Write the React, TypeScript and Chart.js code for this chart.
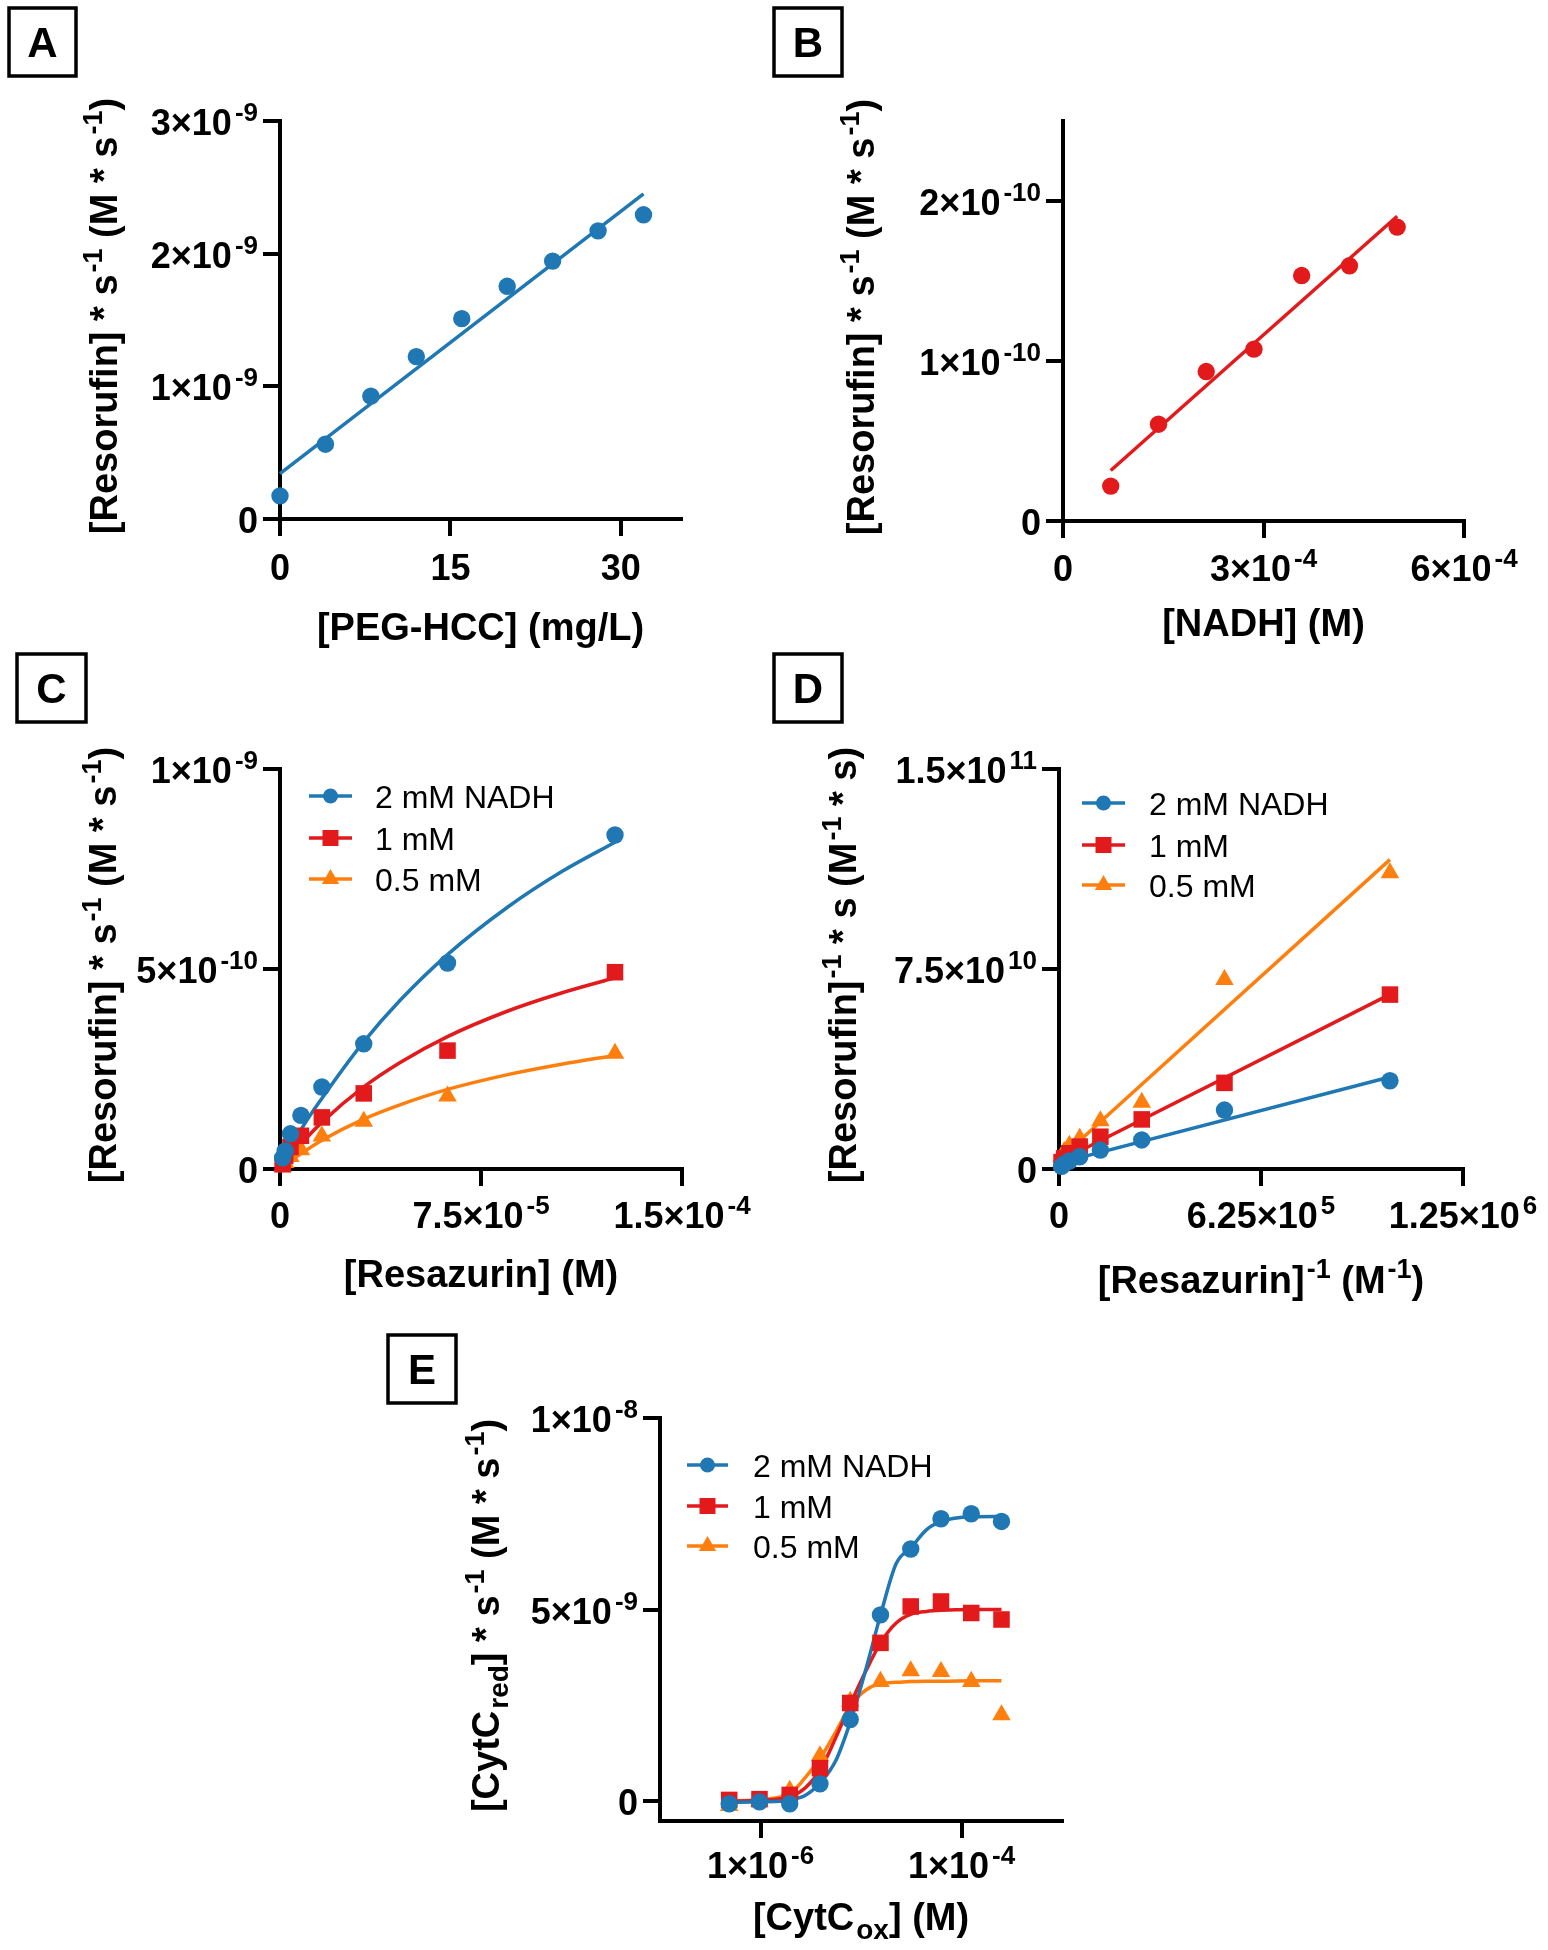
import React, { useEffect, useRef } from 'react';
import { Chart, registerables } from 'chart.js';

Chart.register(...registerables);

const W = 1548;
const H = 1950;
const BLUE = '#1f77b4';
const RED = '#e31a1c';
const ORANGE = '#ff7f0e';
const FONT = '"Liberation Sans", Arial, Helvetica, sans-serif';

// ---------- Panel A: rate vs PEG-HCC ----------
const peghccConc = [0, 4, 8, 12, 16, 20, 24, 28, 32];
const peghccRate = [0.174e-9, 0.564e-9, 0.926e-9, 1.224e-9, 1.51e-9, 1.754e-9, 1.944e-9, 2.172e-9, 2.293e-9];
const peghccFitX = [0, 32];
const peghccFitY = [0.342e-9, 2.451e-9];
const aXTicks = [0, 15, 30];
const aXTickLabels = ['0', '15', '30'];
const aYTicks = [0, 1e-9, 2e-9, 3e-9];
const aYTickLabels = ['0', '1×10^{-9}', '2×10^{-9}', '3×10^{-9}'];

// ---------- Panel B: rate vs NADH ----------
const nadhConc = [0.714e-4, 1.429e-4, 2.143e-4, 2.857e-4, 3.571e-4, 4.286e-4, 5.0e-4];
const nadhRate = [0.218e-10, 0.605e-10, 0.934e-10, 1.074e-10, 1.534e-10, 1.595e-10, 1.837e-10];
const nadhFitX = [0.714e-4, 5.0e-4];
const nadhFitY = [0.316e-10, 1.905e-10];
const bXTicks = [0, 3e-4, 6e-4];
const bXTickLabels = ['0', '3×10^{-4}', '6×10^{-4}'];
const bYTicks = [0, 1e-10, 2e-10];
const bYTickLabels = ['0', '1×10^{-10}', '2×10^{-10}'];

// ---------- Panel C: Michaelis-Menten ----------
const resazurinConc = [1.25e-4, 6.25e-5, 3.125e-5, 1.5625e-5, 7.8125e-6, 3.906e-6, 1.953e-6, 9.77e-7];
const rate2mM = [0.835e-9, 0.515e-9, 0.313e-9, 0.205e-9, 0.134e-9, 0.088e-9, 0.045e-9, 0.028e-9];
const rate1mM = [0.492e-9, 0.296e-9, 0.189e-9, 0.129e-9, 0.083e-9, 0.055e-9, 0.033e-9, 0.012e-9];
const rate05mM = [0.289e-9, 0.182e-9, 0.119e-9, 0.082e-9, 0.048e-9, 0.031e-9, 0.016e-9, 0.005e-9];
const mmCurveX = [9.77e-7, 4e-6, 8e-6, 1.6e-5, 3.1e-5, 4.5e-5, 6.25e-5, 8.5e-5, 1.05e-4, 1.25e-4];
const mmCurve2mM = [0.012e-9, 0.05e-9, 0.1e-9, 0.18e-9, 0.316e-9, 0.423e-9, 0.536e-9, 0.655e-9, 0.743e-9, 0.817e-9];
const mmCurve1mM = [0.008e-9, 0.033e-9, 0.064e-9, 0.119e-9, 0.204e-9, 0.267e-9, 0.331e-9, 0.395e-9, 0.44e-9, 0.478e-9];
const mmCurve05mM = [0.005e-9, 0.02e-9, 0.039e-9, 0.073e-9, 0.124e-9, 0.161e-9, 0.199e-9, 0.236e-9, 0.262e-9, 0.284e-9];
const cXTicks = [0, 7.5e-5, 1.5e-4];
const cXTickLabels = ['0', '7.5×10^{-5}', '1.5×10^{-4}'];
const cYTicks = [0, 5e-10, 1e-9];
const cYTickLabels = ['0', '5×10^{-10}', '1×10^{-9}'];

// ---------- Panel D: Lineweaver-Burk ----------
const invResazurin = [1.024e6, 5.12e5, 2.56e5, 1.28e5, 6.4e4, 3.2e4, 1.6e4, 8e3];
const invRate2mM = [3.31e10, 2.21e10, 1.09e10, 0.71e10, 0.46e10, 0.3e10, 0.19e10, 0.1e10];
const invRate1mM = [6.54e10, 3.23e10, 1.86e10, 1.21e10, 0.84e10, 0.59e10, 0.4e10, 0.26e10];
const invRate05mM = [11.1e10, 7.1e10, 2.5e10, 1.8e10, 1.15e10, 0.88e10, 0.65e10, 0.45e10];
const lbFitX = [8e3, 1.024e6];
const lbFit2mM = [0.25e10, 3.45e10];
const lbFit1mM = [0.33e10, 6.55e10];
const lbFit05mM = [0.45e10, 11.6e10];
const dXTicks = [0, 6.25e5, 1.25e6];
const dXTickLabels = ['0', '6.25×10^{5}', '1.25×10^{6}'];
const dYTicks = [0, 7.5e10, 1.5e11];
const dYTickLabels = ['0', '7.5×10^{10}', '1.5×10^{11}'];

// ---------- Panel E: CytC reduction ----------
const cytcConc = [4.88e-7, 9.77e-7, 1.953e-6, 3.906e-6, 7.8125e-6, 1.5625e-5, 3.125e-5, 6.25e-5, 1.25e-4, 2.5e-4];
const cytcRate2mM = [-0.07e-9, -0.02e-9, -0.07e-9, 0.45e-9, 2.13e-9, 4.86e-9, 6.58e-9, 7.37e-9, 7.5e-9, 7.3e-9];
const cytcRate1mM = [0.03e-9, 0.05e-9, 0.16e-9, 0.86e-9, 2.56e-9, 4.13e-9, 5.08e-9, 5.21e-9, 4.91e-9, 4.74e-9];
const cytcRate05mM = [-0.12e-9, 0.0, 0.28e-9, 1.18e-9, 2.6e-9, 3.12e-9, 3.4e-9, 3.38e-9, 3.12e-9, 2.25e-9];
const cytcCurveX = [4.88e-7, 1.0e-6, 2.0e-6, 2.8e-6, 4.0e-6, 5.6e-6, 7.9e-6, 1.12e-5, 1.58e-5, 2.24e-5, 3.16e-5, 4.47e-5, 6.3e-5, 1.26e-4, 2.5e-4];
const cytcCurve2mM = [-0.03e-9, -0.02e-9, 0.03e-9, 0.15e-9, 0.5e-9, 1.05e-9, 2.1e-9, 3.45e-9, 4.9e-9, 6.2e-9, 6.62e-9, 7.08e-9, 7.3e-9, 7.42e-9, 7.43e-9];
const cytcCurve1mM = [0.0, 0.02e-9, 0.12e-9, 0.35e-9, 0.85e-9, 1.65e-9, 2.55e-9, 3.4e-9, 4.15e-9, 4.65e-9, 4.88e-9, 4.95e-9, 4.98e-9, 5.0e-9, 5.0e-9];
const cytcCurve05mM = [0.0, 0.04e-9, 0.21e-9, 0.62e-9, 1.15e-9, 1.8e-9, 2.5e-9, 2.9e-9, 3.07e-9, 3.1e-9, 3.12e-9, 3.13e-9, 3.13e-9, 3.14e-9, 3.14e-9];
const eXTicks = [1e-6, 1e-4];
const eXTickLabels = ['1×10^{-6}', '1×10^{-4}'];
const eYTicks = [0, 5e-9, 1e-8];
const eYTickLabels = ['0', '5×10^{-9}', '1×10^{-8}'];

const seriesLabels = ['2 mM NADH', '1 mM', '0.5 mM'];
const seriesColors = [BLUE, RED, ORANGE];
const seriesStyles = ['circle', 'rect', 'triangle'];

// ---------- rich text ----------
type Seg = { t: string; k: 'n' | 'sup' | 'sub' };
function parseRich(s: string): Seg[] {
  const out: Seg[] = [];
  let buf = '';
  let i = 0;
  while (i < s.length) {
    const c = s[i];
    if ((c === '^' || c === '_') && s[i + 1] === '{') {
      if (buf) { out.push({ t: buf, k: 'n' }); buf = ''; }
      const end = s.indexOf('}', i + 2);
      out.push({ t: s.slice(i + 2, end), k: c === '^' ? 'sup' : 'sub' });
      i = end + 1;
    } else {
      buf += c;
      i++;
    }
  }
  if (buf) out.push({ t: buf, k: 'n' });
  return out;
}

type RichStyle = { size: number; bold: boolean; supSize: number; supRise: number; subSize: number; subDrop: number; gap: number };
const TICK_STYLE: RichStyle = { size: 36, bold: true, supSize: 26, supRise: 14, subSize: 26, subDrop: 8, gap: 3 };
const TITLE_STYLE: RichStyle = { size: 38, bold: true, supSize: 27, supRise: 15, subSize: 28, subDrop: 9, gap: 2 };

function drawRich(ctx: CanvasRenderingContext2D, s: string, x: number, y: number, st: RichStyle, align: 'left' | 'center' | 'right') {
  const segs = parseRich(s);
  const fontFor = (k: Seg['k']) => `${st.bold ? 'bold ' : ''}${k === 'n' ? st.size : k === 'sup' ? st.supSize : st.subSize}px ${FONT}`;
  const widths = segs.map((sg) => {
    ctx.font = fontFor(sg.k);
    return ctx.measureText(sg.t).width + (sg.k !== 'n' ? st.gap : 0);
  });
  const total = widths.reduce((a, b) => a + b, 0);
  let cx = align === 'center' ? x - total / 2 : align === 'right' ? x - total : x;
  ctx.textAlign = 'left';
  ctx.textBaseline = 'alphabetic';
  segs.forEach((sg, i) => {
    ctx.font = fontFor(sg.k);
    const dy = sg.k === 'sup' ? -st.supRise : sg.k === 'sub' ? st.subDrop : 0;
    ctx.fillText(sg.t, cx + (sg.k !== 'n' ? st.gap : 0), y + dy);
    cx += widths[i];
  });
}

function drawMarker(ctx: CanvasRenderingContext2D, style: string, x: number, y: number, color: string) {
  ctx.fillStyle = color;
  ctx.beginPath();
  if (style === 'circle') {
    ctx.arc(x, y, 7.5, 0, Math.PI * 2);
  } else if (style === 'rect') {
    ctx.rect(x - 8, y - 8, 16, 16);
  } else {
    const r = 10;
    ctx.moveTo(x, y - r);
    ctx.lineTo(x + r * Math.sin((2 * Math.PI) / 3), y + r / 2);
    ctx.lineTo(x - r * Math.sin((2 * Math.PI) / 3), y + r / 2);
    ctx.closePath();
  }
  ctx.fill();
}

type Area = { left: number; top: number; right: number; bottom: number };
type PanelSpec = {
  letter: string;
  box: [number, number, number, number];
  area: Area;
  xType: 'linear' | 'logarithmic';
  xMin: number; xMax: number; yMin: number; yMax: number;
  xTicks: number[]; xTickLabels: string[];
  yTicks: number[]; yTickLabels: string[];
  xTitle: string; yTitle: string;
  xLabelDy: number; xTitleDy: number; yTitleDx: number;
  legend?: { x0: number; x1: number; tx: number; rows: number[] };
  datasets: any[];
};

const pts = (xs: number[], ys: number[]) => xs.map((x, i) => ({ x, y: ys[i] }));

function pointSet(label: string, xs: number[], ys: number[], color: string, style: string) {
  const radius = style === 'circle' ? 8.7 : style === 'rect' ? 11.7 : 10.7;
  return {
    label,
    data: pts(xs, ys),
    showLine: false,
    pointStyle: style,
    pointRadius: radius,
    pointBackgroundColor: color,
    pointBorderColor: color,
    pointBorderWidth: 0,
    backgroundColor: color,
    borderColor: color,
    clip: false,
  };
}

function curveSet(xs: number[], ys: number[], color: string, smooth: boolean) {
  return {
    data: pts(xs, ys),
    showLine: true,
    pointRadius: 0,
    borderColor: color,
    backgroundColor: color,
    borderWidth: 3.5,
    fill: false,
    cubicInterpolationMode: smooth ? 'monotone' : 'default',
    tension: 0,
    clip: false,
  };
}

const panels: PanelSpec[] = [
  {
    letter: 'A',
    box: [9, 8, 67, 68],
    area: { left: 280, top: 121, right: 681, bottom: 519 },
    xType: 'linear', xMin: 0, xMax: 35.3, yMin: 0, yMax: 3e-9,
    xTicks: aXTicks, xTickLabels: aXTickLabels, yTicks: aYTicks, yTickLabels: aYTickLabels,
    xTitle: '[PEG-HCC] (mg/L)', yTitle: '[Resorufin] * s^{-1} (M * s^{-1})',
    xLabelDy: 61, xTitleDy: 121, yTitleDx: 163,
    datasets: [
      pointSet('PEG-HCC', peghccConc, peghccRate, BLUE, 'circle'),
      curveSet(peghccFitX, peghccFitY, BLUE, false),
    ],
  },
  {
    letter: 'B',
    box: [774, 8, 68, 68],
    area: { left: 1063, top: 121, right: 1464, bottom: 521 },
    xType: 'linear', xMin: 0, xMax: 6e-4, yMin: 0, yMax: 2.5e-10,
    xTicks: bXTicks, xTickLabels: bXTickLabels, yTicks: bYTicks, yTickLabels: bYTickLabels,
    xTitle: '[NADH] (M)', yTitle: '[Resorufin] * s^{-1} (M * s^{-1})',
    xLabelDy: 60, xTitleDy: 115, yTitleDx: 189,
    datasets: [
      pointSet('NADH', nadhConc, nadhRate, RED, 'circle'),
      curveSet(nadhFitX, nadhFitY, RED, false),
    ],
  },
  {
    letter: 'C',
    box: [17, 654, 69, 68],
    area: { left: 280, top: 769, right: 682, bottom: 1169 },
    xType: 'linear', xMin: 0, xMax: 1.5e-4, yMin: 0, yMax: 1e-9,
    xTicks: cXTicks, xTickLabels: cXTickLabels, yTicks: cYTicks, yTickLabels: cYTickLabels,
    xTitle: '[Resazurin] (M)', yTitle: '[Resorufin] * s^{-1} (M * s^{-1})',
    xLabelDy: 59, xTitleDy: 118, yTitleDx: 164,
    legend: { x0: 309, x1: 352, tx: 375, rows: [796, 838, 879] },
    datasets: [
      pointSet(seriesLabels[0], resazurinConc, rate2mM, BLUE, 'circle'),
      pointSet(seriesLabels[1], resazurinConc, rate1mM, RED, 'rect'),
      pointSet(seriesLabels[2], resazurinConc, rate05mM, ORANGE, 'triangle'),
      curveSet(mmCurveX, mmCurve2mM, BLUE, true),
      curveSet(mmCurveX, mmCurve1mM, RED, true),
      curveSet(mmCurveX, mmCurve05mM, ORANGE, true),
    ],
  },
  {
    letter: 'D',
    box: [774, 654, 68, 68],
    area: { left: 1059, top: 769, right: 1463, bottom: 1169 },
    xType: 'linear', xMin: 0, xMax: 1.25e6, yMin: 0, yMax: 1.5e11,
    xTicks: dXTicks, xTickLabels: dXTickLabels, yTicks: dYTicks, yTickLabels: dYTickLabels,
    xTitle: '[Resazurin]^{-1} (M^{-1})', yTitle: '[Resorufin]^{-1} * s (M^{-1} * s)',
    xLabelDy: 59, xTitleDy: 124, yTitleDx: 203,
    legend: { x0: 1082, x1: 1125, tx: 1149, rows: [803, 845, 885] },
    datasets: [
      pointSet(seriesLabels[0], invResazurin, invRate2mM, BLUE, 'circle'),
      pointSet(seriesLabels[1], invResazurin, invRate1mM, RED, 'rect'),
      pointSet(seriesLabels[2], invResazurin, invRate05mM, ORANGE, 'triangle'),
      curveSet(lbFitX, lbFit2mM, BLUE, false),
      curveSet(lbFitX, lbFit1mM, RED, false),
      curveSet(lbFitX, lbFit05mM, ORANGE, false),
    ],
  },
  {
    letter: 'E',
    box: [388, 1335, 68, 68],
    area: { left: 660, top: 1418, right: 1062, bottom: 1821 },
    xType: 'logarithmic', xMin: 1e-7, xMax: 1e-3, yMin: -0.52e-9, yMax: 1e-8,
    xTicks: eXTicks, xTickLabels: eXTickLabels, yTicks: eYTicks, yTickLabels: eYTickLabels,
    xTitle: '[CytC_{ox}] (M)', yTitle: '[CytC_{red}] * s^{-1} (M * s^{-1})',
    xLabelDy: 57, xTitleDy: 109, yTitleDx: 161,
    legend: { x0: 687, x1: 728, tx: 753, rows: [1465, 1506, 1546] },
    datasets: [
      pointSet(seriesLabels[0], cytcConc, cytcRate2mM, BLUE, 'circle'),
      pointSet(seriesLabels[1], cytcConc, cytcRate1mM, RED, 'rect'),
      pointSet(seriesLabels[2], cytcConc, cytcRate05mM, ORANGE, 'triangle'),
      curveSet(cytcCurveX, cytcCurve2mM, BLUE, true),
      curveSet(cytcCurveX, cytcCurve1mM, RED, true),
      curveSet(cytcCurveX, cytcCurve05mM, ORANGE, true),
    ],
  },
];

function decorPlugin(p: PanelSpec) {
  return {
    id: 'decor' + p.letter,
    afterDraw(chart: any) {
      const ctx: CanvasRenderingContext2D = chart.ctx;
      const ca = chart.chartArea;
      const xs = chart.scales.x;
      const ys = chart.scales.y;
      ctx.save();
      ctx.fillStyle = '#000';
      p.yTicks.forEach((v, i) => {
        drawRich(ctx, p.yTickLabels[i], ca.left - 22, ys.getPixelForValue(v) + 14, TICK_STYLE, 'right');
      });
      p.xTicks.forEach((v, i) => {
        drawRich(ctx, p.xTickLabels[i], xs.getPixelForValue(v), ca.bottom + p.xLabelDy, TICK_STYLE, 'center');
      });
      drawRich(ctx, p.xTitle, (ca.left + ca.right) / 2, ca.bottom + p.xTitleDy, TITLE_STYLE, 'center');
      ctx.save();
      ctx.translate(ca.left - p.yTitleDx, (ca.top + ca.bottom) / 2 - 4);
      ctx.rotate(-Math.PI / 2);
      drawRich(ctx, p.yTitle, 0, 0, TITLE_STYLE, 'center');
      ctx.restore();

      if (p.legend) {
        const lg = p.legend;
        lg.rows.forEach((ry, i) => {
          ctx.strokeStyle = seriesColors[i];
          ctx.lineWidth = 3.5;
          ctx.beginPath();
          ctx.moveTo(lg.x0, ry);
          ctx.lineTo(lg.x1, ry);
          ctx.stroke();
          drawMarker(ctx, seriesStyles[i], (lg.x0 + lg.x1) / 2, ry, seriesColors[i]);
          ctx.fillStyle = '#000';
          ctx.font = `32px ${FONT}`;
          ctx.textAlign = 'left';
          ctx.textBaseline = 'alphabetic';
          ctx.fillText(seriesLabels[i], lg.tx, ry + 12);
        });
      }

      const [bx, by, bw, bh] = p.box;
      ctx.strokeStyle = '#000';
      ctx.lineWidth = 3.5;
      ctx.strokeRect(bx, by, bw, bh);
      ctx.fillStyle = '#000';
      ctx.font = `bold 42px ${FONT}`;
      ctx.textAlign = 'center';
      ctx.textBaseline = 'alphabetic';
      ctx.fillText(p.letter, bx + bw / 2, by + bh / 2 + 15);
      ctx.restore();
    },
  };
}

function axisOptions(type: string, min: number, max: number, ticks: number[], horizontal: boolean) {
  return {
    type,
    min,
    max,
    bounds: 'data',
    afterBuildTicks: (scale: any) => {
      scale.ticks = ticks.map((v) => ({ value: v }));
    },
    afterFit: (scale: any) => {
      if (horizontal) scale.height = 20;
      else scale.width = 20;
    },
    ticks: { display: false },
    grid: {
      display: true,
      drawOnChartArea: false,
      drawTicks: true,
      tickLength: 17,
      color: '#000',
      lineWidth: 4,
    },
    border: { display: true, color: '#000', width: 4 },
    title: { display: false },
  };
}

function buildConfig(p: PanelSpec): any {
  const a = p.area;
  return {
    type: 'scatter',
    data: { datasets: p.datasets },
    options: {
      responsive: false,
      maintainAspectRatio: false,
      animation: false,
      devicePixelRatio: 1,
      events: [],
      layout: {
        autoPadding: false,
        padding: { left: a.left - 20, top: a.top, right: W - a.right, bottom: H - a.bottom - 20 },
      },
      plugins: { legend: { display: false }, tooltip: { enabled: false }, title: { display: false } },
      scales: {
        x: { ...axisOptions(p.xType, p.xMin, p.xMax, p.xTicks, true), position: 'bottom' },
        y: { ...axisOptions('linear', p.yMin, p.yMax, p.yTicks, false), position: 'left' },
      },
    },
    plugins: [decorPlugin(p)],
  };
}

function Panel({ spec }: { spec: PanelSpec }) {
  const ref = useRef<HTMLCanvasElement>(null);
  useEffect(() => {
    if (!ref.current) return;
    const chart = new Chart(ref.current, buildConfig(spec));
    return () => chart.destroy();
  }, [spec]);
  return (
    <canvas
      ref={ref}
      width={W}
      height={H}
      style={{ position: 'absolute', left: 0, top: 0, width: W, height: H, pointerEvents: 'none' }}
    />
  );
}

export default function App() {
  return (
    <div style={{ position: 'absolute', left: 0, top: 0, width: W, height: H, background: '#fff', overflow: 'hidden' }}>
      {panels.map((p) => (
        <Panel key={p.letter} spec={p} />
      ))}
    </div>
  );
}
